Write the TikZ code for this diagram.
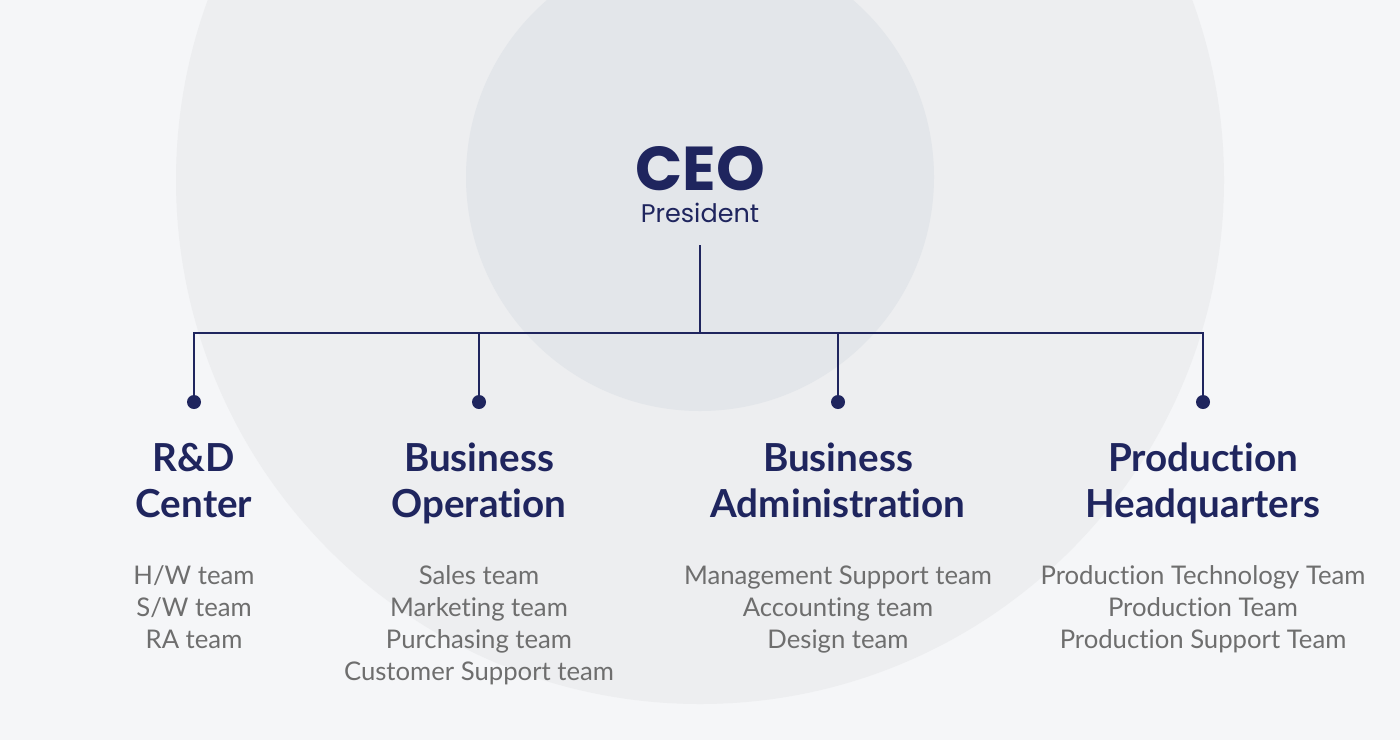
\documentclass[tikz,border=0pt]{standalone}
\usepackage{fontspec}
\setmainfont{Lato}[Ligatures=NoCommon]
\newfontfamily\popfont{Poppins}
\definecolor{bg}{HTML}{F5F6F8}
\definecolor{ringout}{HTML}{EDEEF0}
\definecolor{ringin}{HTML}{E3E6EA}
\definecolor{navy}{HTML}{1F255E}
\definecolor{teamgray}{HTML}{6E6E6E}
\begin{document}
\begin{tikzpicture}[x=1pt,y=-1pt,
  ceostyle/.style={anchor=base,inner sep=0pt,text depth=0pt,text=navy,font=\popfont\bfseries\fontsize{62}{62}\selectfont},
  presstyle/.style={anchor=base,inner sep=0pt,text=navy,font=\popfont\fontsize{25.5}{25.5}\selectfont},
  headstyle/.style={anchor=base,inner sep=0pt,text=navy,font=\bfseries\fontsize{38.6}{38.6}\selectfont},
  teamstyle/.style={anchor=base,inner sep=0pt,text=teamgray,font=\fontsize{25.7}{25.7}\selectfont},
  dotstyle/.style={circle,fill=navy,inner sep=0pt,minimum size=14pt},
  linkstyle/.style={draw=navy,line width=1.8pt}]
\fill[bg] (0,0) rectangle (1400,740);
\useasboundingbox (0,0) rectangle (1400,740);
\begin{scope}
\clip (0,0) rectangle (1400,740);
\fill[ringout] (700,180) circle[radius=524];
\fill[ringin] (700,177) circle[radius=234];
\end{scope}
% CEO
\node[ceostyle] (ceo) at (700,190) {CEO};
\node[presstyle] (pres) at (700,222) {President};
\coordinate (top) at (700,245);
\coordinate (junc) at (700,333);
% dots
\node[dotstyle] (d1) at (194,402) {};
\node[dotstyle] (d2) at (479,402) {};
\node[dotstyle] (d3) at (838,402) {};
\node[dotstyle] (d4) at (1203,402) {};
% connectors
\draw[linkstyle] (top) -- (junc);
\draw[linkstyle] (d1.center) -- (d1.center |- junc) -- (d4.center |- junc) -- (d4.center);
\draw[linkstyle] (d2.center) -- (d2.center |- junc);
\draw[linkstyle] (d3.center) -- (d3.center |- junc);
% headers
\node[headstyle] (h1a) at (194,471) {R\&D};
\node[headstyle] (h1b) at (194,517) {Center};
\node[headstyle] (h2a) at (479,471) {Business};
\node[headstyle] (h2b) at (479,517) {Operation};
\node[headstyle] (h3a) at (838,471) {Business};
\node[headstyle] (h3b) at (838,517) {Administration};
\node[headstyle] (h4a) at (1203,471) {Production};
\node[headstyle] (h4b) at (1203,517) {Headquarters};
% teams
\node[teamstyle] (t11) at (194,584) {H/W team};
\node[teamstyle] (t12) at (194,616) {S/W team};
\node[teamstyle] (t13) at (194,648) {RA team};
\node[teamstyle] (t21) at (479,584) {Sales team};
\node[teamstyle] (t22) at (479,616) {Marketing team};
\node[teamstyle] (t23) at (479,648) {Purchasing team};
\node[teamstyle] (t24) at (479,680) {Customer Support team};
\node[teamstyle] (t31) at (838,584) {Management Support team};
\node[teamstyle] (t32) at (838,616) {Accounting team};
\node[teamstyle] (t33) at (838,648) {Design team};
\node[teamstyle] (t41) at (1203,584) {Production Technology Team};
\node[teamstyle] (t42) at (1203,616) {Production Team};
\node[teamstyle] (t43) at (1203,648) {Production Support Team};
\end{tikzpicture}
\end{document}
